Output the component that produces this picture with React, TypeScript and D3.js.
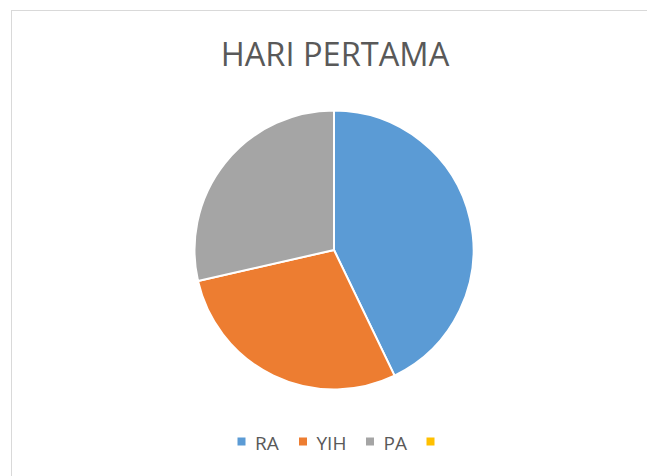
import React from "react";
import * as d3 from "d3";

const categories = ["RA", "YIH", "PA", ""];
const values = [3, 2, 2, 0];
const colors = ["#5b9bd5", "#ed7d31", "#a5a5a5", "#ffc000"];
const title = "HARI PERTAMA";

export default function App() {
  const W = 647, H = 476;
  const cx = 334, cy = 250, r = 139.5;
  const pie = d3.pie<number>().sort(null).value((d) => d)(values);
  const arc = d3.arc<d3.PieArcDatum<number>>().innerRadius(0).outerRadius(r);
  const legendX = [237.5, 299, 366, 426.5];
  return (
    <svg width={W} height={H} style={{ position: "absolute", left: 0, top: 0 }}>
      <rect x={0} y={0} width={W} height={H} fill="#fff" />
      <rect x={11.5} y={10.5} width={W + 10} height={H + 10} fill="#fff" stroke="#d9d9d9" strokeWidth={1} />
      <text x={335} y={66} textAnchor="middle" fontFamily="'Open Sans', sans-serif" fontSize={32.6} fill="#595959">
        {title}
      </text>
      <g transform={`translate(${cx},${cy})`}>
        {pie.map((p, i) =>
          p.value > 0 ? (
            <path key={i} d={arc(p) || ""} fill={colors[i]} stroke="#fff" strokeWidth={2} strokeLinejoin="round" />
          ) : null
        )}
      </g>
      <g fontFamily="'Open Sans', sans-serif" fontSize={19} fill="#595959">
        {categories.map((c, i) => (
          <g key={i} transform={`translate(${legendX[i]},441.5)`}>
            <rect x={0} y={-4} width={8} height={8} fill={colors[i]} />
            <text x={17.5} y={8.5}>{c}</text>
          </g>
        ))}
      </g>
    </svg>
  );
}
